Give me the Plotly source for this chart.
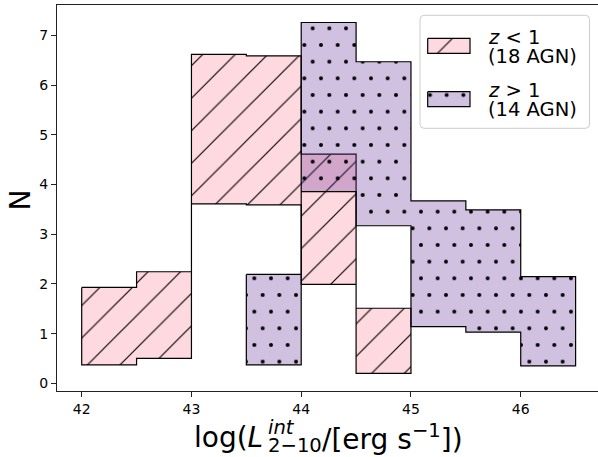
import plotly.graph_objects as go

# Luminosity bins and the N range (lower, upper) in each bin
low_z_edges = [42.0, 42.5, 43.0, 43.5, 44.0, 44.5, 45.0]
low_z_lower = [0.37, 0.50, 3.61, 3.59, 1.99, 0.20]
low_z_upper = [1.93, 2.245, 6.62, 6.59, 4.61, 1.51]

high_z_edges = [43.5, 44.0, 44.5, 45.0, 45.5, 46.0, 46.5]
high_z_lower = [0.37, 3.855, 3.17, 1.14, 1.03, 0.35]
high_z_upper = [2.19, 7.26, 6.47, 3.67, 3.49, 2.145]

x_ticks = [42, 43, 44, 45, 46]
y_ticks = [0, 1, 2, 3, 4, 5, 6, 7]

legend_lines = [("<i>z</i> &lt; 1", "(18 AGN)"), ("<i>z</i> &gt; 1", "(14 AGN)")]

PINK_FILL = "rgba(255,192,203,0.6)"
PURPLE_FILL = "rgba(102,51,153,0.3)"
CLEAR = "rgba(0,0,0,0)"
FONT = "DejaVu Sans"

W, H = 598, 457
ML, MR, MT, MB = 57, 0, 5, 66
PW, PH = W - ML - MR, H - MT - MB
X_RANGE = [41.775, 46.704]
Y_RANGE = [-0.155, 7.612]
PX_PER_X = PW / (X_RANGE[1] - X_RANGE[0])
PX_PER_Y = PH / (Y_RANGE[1] - Y_RANGE[0])


def px_x(px):
    return (px - ML) / PW


def px_y(py):
    return (H - MB - py) / PH


def data_x(px):
    return X_RANGE[0] + (px - ML) / PX_PER_X


def data_y(py):
    return Y_RANGE[0] + (H - MB - py) / PX_PER_Y


def step_band(edges, lower, upper):
    """Closed outline of a stepped band between lower and upper bin values."""
    xs, ys = [], []
    for i, top in enumerate(upper):
        xs += [edges[i], edges[i + 1]]
        ys += [top, top]
    for i in reversed(range(len(lower))):
        xs += [edges[i + 1], edges[i]]
        ys += [lower[i], lower[i]]
    xs.append(xs[0])
    ys.append(ys[0])
    return xs, ys


hatch = dict(shape="/", size=23, solidity=0.05, fgcolor="black",
             bgcolor=PINK_FILL, fillmode="replace")

fig = go.Figure()

low_x, low_y = step_band(low_z_edges, low_z_lower, low_z_upper)
high_x, high_y = step_band(high_z_edges, high_z_lower, high_z_upper)

fig.add_trace(go.Scatter(x=low_x, y=low_y, mode="lines", fill="toself",
                         fillcolor=PINK_FILL, fillpattern=hatch,
                         line=dict(color="black", width=1.2),
                         name="z < 1 (18 AGN)", hoverinfo="skip"))

fig.add_trace(go.Scatter(x=high_x, y=high_y, mode="lines", fill="toself",
                         fillcolor=PURPLE_FILL,
                         line=dict(color="black", width=1.2),
                         name="z > 1 (14 AGN)", hoverinfo="skip"))

# Staggered dot hatching: four square dot grids, each drawn on its own
# overlay subplot whose origin sets the grid phase.
DOT_TILE = 33.33
dot_grid = dict(shape=".", size=DOT_TILE, solidity=0.0113, fgcolor="black",
                bgcolor=CLEAR, fillmode="replace")
dot_origins = [(62.7, 11.67), (79.37, 11.67), (87.7, 28.33), (71.03, 28.33)]
layout_axes = {}
for k, (ox, oy) in enumerate(dot_origins):
    n = k + 3
    fig.add_trace(go.Scatter(x=high_x, y=high_y, mode="none", fill="toself",
                             fillcolor=CLEAR, fillpattern=dot_grid,
                             xaxis=f"x{n}", yaxis=f"y{n}", hoverinfo="skip",
                             showlegend=False))
    layout_axes[f"xaxis{n}"] = dict(domain=[px_x(ox), 1.0],
                                    range=[data_x(ox), X_RANGE[1]],
                                    visible=False, anchor=f"y{n}")
    layout_axes[f"yaxis{n}"] = dict(domain=[0.0, px_y(oy)],
                                    range=[Y_RANGE[0], data_y(oy)],
                                    visible=False, anchor=f"x{n}")

# Legend swatches live on a small helper subplot measured in pixels
legend_dots = dict(shape=".", size=16.67, solidity=0.045, fgcolor="black",
                   bgcolor=PURPLE_FILL, fillmode="replace")
sw_x0, sw_x1 = 421.67, 472.0
sw_y0, sw_y1 = 36.67, 108.7
handles = [(427.7, 470.0, 38.3, 53.3, hatch), (427.7, 470.0, 91.7, 106.7, legend_dots)]
for (x0, x1, y0, y1, pat) in handles:
    fig.add_trace(go.Scatter(x=[x0, x1, x1, x0, x0], y=[y0, y0, y1, y1, y0],
                             mode="lines", fill="toself", fillcolor=pat["bgcolor"],
                             fillpattern=pat, line=dict(color="black", width=1.2),
                             xaxis="x2", yaxis="y2", hoverinfo="skip",
                             showlegend=False))

axis_common = dict(showgrid=False, zeroline=False, showline=True,
                   linecolor="#222", linewidth=1, ticks="outside", ticklen=5,
                   tickwidth=1, tickcolor="#222",
                   tickfont=dict(family=FONT, size=14, color="black"))

fig.update_layout(
    width=W, height=H,
    margin=dict(l=ML, r=MR, t=MT, b=MB),
    paper_bgcolor="white", plot_bgcolor=CLEAR,
    showlegend=False,
    xaxis=dict(range=X_RANGE, tickvals=x_ticks, mirror=True, **axis_common),
    yaxis=dict(range=Y_RANGE, tickvals=y_ticks, mirror=False, **axis_common),
    xaxis2=dict(domain=[px_x(sw_x0), px_x(sw_x1)], range=[sw_x0, sw_x1],
                visible=False, anchor="y2"),
    yaxis2=dict(domain=[px_y(sw_y1), px_y(sw_y0)], range=[sw_y1, sw_y0],
                visible=False, anchor="x2"),
    **layout_axes,
)

# Legend frame with rounded corners
lx0, lx1, ly0, ly1, r = 420.0, 589.5, 15.3, 128.3, 4.0
path = (f"M {px_x(lx0 + r)},{px_y(ly0)} L {px_x(lx1 - r)},{px_y(ly0)} "
        f"Q {px_x(lx1)},{px_y(ly0)} {px_x(lx1)},{px_y(ly0 + r)} "
        f"L {px_x(lx1)},{px_y(ly1 - r)} "
        f"Q {px_x(lx1)},{px_y(ly1)} {px_x(lx1 - r)},{px_y(ly1)} "
        f"L {px_x(lx0 + r)},{px_y(ly1)} "
        f"Q {px_x(lx0)},{px_y(ly1)} {px_x(lx0)},{px_y(ly1 - r)} "
        f"L {px_x(lx0)},{px_y(ly0 + r)} "
        f"Q {px_x(lx0)},{px_y(ly0)} {px_x(lx0 + r)},{px_y(ly0)} Z")
fig.add_shape(type="path", path=path, xref="paper", yref="paper",
              fillcolor="rgba(255,255,255,0.8)",
              line=dict(color="#cccccc", width=1), layer="below")

annotations = []
for k, (line1, line2) in enumerate(legend_lines):
    hc = 46.5 + 53.4 * k
    for txt, dy in ((line1, -9.0), (line2, 10.0)):
        annotations.append(dict(text=txt, x=px_x(486.0), y=px_y(hc + dy),
                                xref="paper", yref="paper", xanchor="left",
                                yanchor="middle", showarrow=False,
                                font=dict(family=FONT, size=19.5, color="black")))

# y-axis title
annotations.append(dict(text="N", x=px_x(19.5), y=px_y(200), xref="paper",
                        yref="paper", textangle=-90, showarrow=False,
                        xanchor="center", yanchor="middle",
                        font=dict(family=FONT, size=28, color="black")))

# x-axis title, with the stacked superscript/subscript on L
big = dict(family=FONT, size=28, color="black")
small = dict(family=FONT, size=19.6, color="black")
stack_x = 266.0
annotations += [
    dict(text="log(<i>L</i>", x=px_x(stack_x - 1), y=px_y(437), font=big,
         xanchor="right"),
    dict(text="<i>int</i>", x=px_x(stack_x), y=px_y(427.5), font=small,
         xanchor="left"),
    dict(text="2\u221210", x=px_x(stack_x), y=px_y(445.5), font=small,
         xanchor="left"),
    dict(text="/[erg s<sup>\u22121</sup>])", x=px_x(stack_x + 54), y=px_y(437),
         font=big, xanchor="left"),
]
for a in annotations[-4:]:
    a.update(xref="paper", yref="paper", yanchor="middle", showarrow=False)

fig.update_layout(annotations=annotations)

fig.write_html("out.html")
